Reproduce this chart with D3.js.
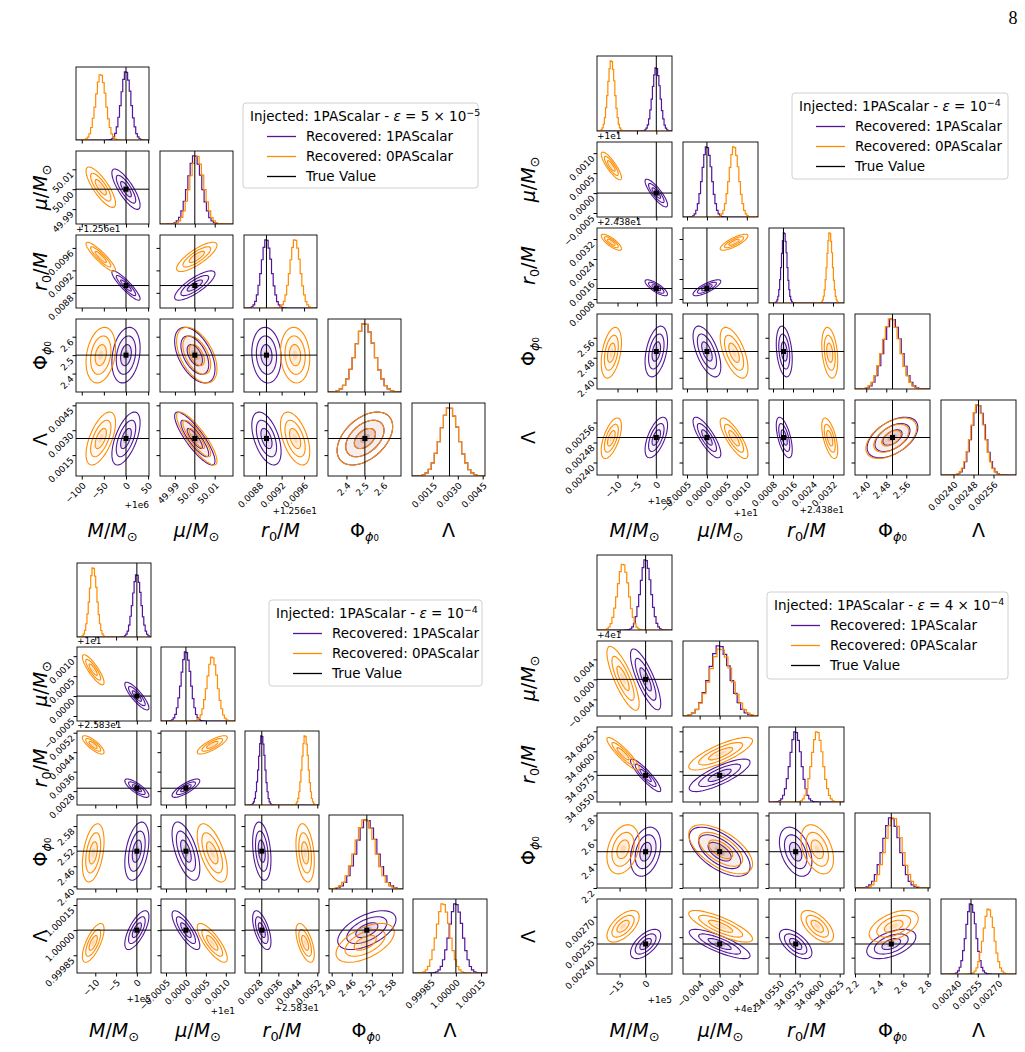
<!DOCTYPE html>
<html><head><meta charset="utf-8">
<script src="https://cdn.jsdelivr.net/npm/d3@7"></script>
<style>body{margin:0;background:#fff}svg{font-family:"DejaVu Sans",sans-serif}</style>
</head><body><svg id="c" width="1025" height="1052"></svg>
<script>
// ---------- DATA ----------
const params = ["M","mu","r0","Phi","Lambda"];
const seriesNames = ["Recovered: 1PAScalar","Recovered: 0PAScalar","True Value"];
// histogram shape (relative heights, bins of sigma/3 from -4 to +4 sigma)
const histProfile = [0.001,0.003,0.007,0.018,0.045,0.095,0.19,0.33,0.5,0.7,0.88,0.99,0.98,0.87,0.71,0.5,0.32,0.19,0.093,0.044,0.018,0.007,0.003,0.001];
const contourRadii = [1.1,2.0,2.9];
const fillRadii = [2.0,1.1,0.5];
const fillAlpha = [0.05,0.1,0.2];

// Panel A : eps = 5e-5 (values shown after offset)
const A_title = ["Injected: 1PAScalar - ","ε"," = 5 × 10","−5"];
const A_lo = [-113, 49.9825, 0.00853, 2.30, 0.00024];
const A_hi = [52, 50.0192, 0.00983, 2.696, 0.00464];
const A_ticks = [[-100,-50,0,50],[49.99,50.00,50.01],[0.0088,0.0092,0.0096],[2.4,2.5,2.6],[0.0015,0.0030,0.0045]];
const A_tickLabels = [["−100","−50","0","50"],["49.99","50.00","50.01"],["0.0088","0.0092","0.0096"],["2.4","2.5","2.6"],["0.0015","0.0030","0.0045"]];
const A_offsets = ["+1e6","","+1.256e1","",""];
const A_truth = [0, 50.0, 0.00893, 2.5, 0.0025];
const A_purpleMean = [0, 50.0, 0.00893, 2.5, 0.0025];
const A_purpleSd = [11, 0.0035, 0.00009, 0.052, 0.00055];
const A_orangeMean = [-57, 50.001, 0.00944, 2.5, 0.0025];
const A_orangeSd = [11.5, 0.0035, 0.00009, 0.052, 0.00055];
const A_rho = [[1,-0.8,-0.9,0.25,0.6],[-0.8,1,0.8,-0.5,-0.85],[-0.9,0.8,1,-0.1,-0.5],[0.25,-0.5,-0.1,1,0.45],[0.6,-0.85,-0.5,0.45,1]];

// Panel B : eps = 1e-4
const B_title = ["Injected: 1PAScalar - ","ε"," = 10","−4"];
const B_lo = [-15.3, -0.0006, 0.00064, 2.355, 0.00235];
const B_hi = [4.05, 0.00128, 0.00364, 2.655, 0.00265];
const B_ticks = [[-10,-5,0],[-0.0005,0,0.0005,0.0010],[0.0008,0.0016,0.0024,0.0032],[2.40,2.48,2.56],[0.00240,0.00248,0.00256]];
const B_tickLabels = [["−10","−5","0"],["−0.0005","0.0000","0.0005","0.0010"],["0.0008","0.0016","0.0024","0.0032"],["2.40","2.48","2.56"],["0.00240","0.00248","0.00256"]];
const B_offsets = ["+1e5","+1e1","+2.438e1","",""];
const B_truth = [0, 0, 0.00122, 2.505, 0.0025];
const B_purpleMean = [0, 0, 0.00125, 2.505, 0.00250];
const B_purpleSd = [1.0, 0.00012, 0.00011, 0.035, 0.000028];
const B_orangeMean = [-11.6, 0.00068, 0.00307, 2.50, 0.002497];
const B_orangeSd = [0.9, 0.00012, 0.00011, 0.035, 0.000028];
const B_rho = [[1,-0.85,-0.8,0.4,0.6],[-0.85,1,0.8,-0.6,-0.8],[-0.8,0.8,1,-0.3,-0.6],[0.4,-0.6,-0.3,1,0.5],[0.6,-0.8,-0.6,0.5,1]];

// Panel C : eps = 1e-4 (second run)
const C_title = ["Injected: 1PAScalar - ","ε"," = 10","−4"];
const C_lo = [-14.4, -0.000625, 0.00223, 2.392, 0.999744];
const C_hi = [3.4, 0.00123, 0.00527, 2.613, 1.000186];
const C_ticks = [[-10,-5,0],[-0.0005,0,0.0005,0.0010],[0.0028,0.0036,0.0044,0.0052],[2.40,2.46,2.52,2.58],[0.99985,1.00000,1.00015]];
const C_tickLabels = [["−10","−5","0"],["−0.0005","0.0000","0.0005","0.0010"],["0.0028","0.0036","0.0044","0.0052"],["2.40","2.46","2.52","2.58"],["0.99985","1.00000","1.00015"]];
const C_offsets = ["+1e5","+1e1","+2.583e1","",""];
const C_truth = [0, 0, 0.00292, 2.505, 1.0];
const C_purpleMean = [0, 0, 0.00292, 2.505, 1.0];
const C_purpleSd = [1.0, 0.00012, 0.00013, 0.03, 0.00004];
const C_orangeMean = [-10.5, 0.00066, 0.00470, 2.50, 0.999924];
const C_orangeSd = [0.9, 0.00013, 0.00013, 0.03, 0.00004];
const C_rho = [[1,-0.85,-0.8,0.4,0.7],[-0.85,1,0.8,-0.6,-0.8],[-0.8,0.8,1,-0.3,-0.6],[0.4,-0.6,-0.3,1,0.55],[0.7,-0.8,-0.6,0.55,1]];

// Panel D : eps = 4e-4
const D_title = ["Injected: 1PAScalar - ","ε"," = 4 × 10","−4"];
const D_lo = [-28, -0.00733, 34.05367, 2.2, 0.00228];
const D_hi = [15.2, 0.00767, 34.06304, 2.82, 0.00283];
const D_ticks = [[-15,0],[-0.004,0,0.004],[34.0550,34.0575,34.0600,34.0625],[2.2,2.4,2.6,2.8],[0.00240,0.00255,0.00270]];
const D_tickLabels = [["−15","0"],["−0.004","0.000","0.004"],["34.0550","34.0575","34.0600","34.0625"],["2.2","2.4","2.6","2.8"],["0.00240","0.00255","0.00270"]];
const D_offsets = ["+1e5","+4e1","","",""];
const D_truth = [0, 0, 34.0570, 2.5, 0.0025];
const D_purpleMean = [0, 0, 34.0570, 2.5, 0.0025];
const D_purpleSd = [3.0, 0.0021, 0.0007, 0.07, 0.000037];
const D_orangeMean = [-13, 0.0002, 34.0597, 2.52, 0.00263];
const D_orangeSd = [3.2, 0.0022, 0.0007, 0.07, 0.00004];
const D_rho = [[1,-0.8,-0.9,0.3,0.6],[-0.8,1,0.8,-0.6,-0.8],[-0.9,0.8,1,-0.4,-0.6],[0.3,-0.6,-0.4,1,0.5],[0.6,-0.8,-0.6,0.5,1]];

// ---------- LAYOUT ----------
const COL_P = "#52169a", COL_O = "#ff8c00";
const panels = [
 {id:"A",ox:76,oy:67,step:84,cell:73,lx:47,lb:537,leg:[243,103,235,85],title:A_title,lo:A_lo,hi:A_hi,ticks:A_ticks,labels:A_tickLabels,off:A_offsets,truth:A_truth,pm:A_purpleMean,ps:A_purpleSd,om:A_orangeMean,os:A_orangeSd,rho:A_rho},
 {id:"B",ox:597,oy:56,step:86,cell:75,lx:535,lb:537,leg:[792,93,216,86],title:B_title,lo:B_lo,hi:B_hi,ticks:B_ticks,labels:B_tickLabels,off:B_offsets,truth:B_truth,pm:B_purpleMean,ps:B_purpleSd,om:B_orangeMean,os:B_orangeSd,rho:B_rho},
 {id:"C",ox:77,oy:563,step:84,cell:74,lx:47,lb:1037,leg:[269,600,213,86],title:C_title,lo:C_lo,hi:C_hi,ticks:C_ticks,labels:C_tickLabels,off:C_offsets,truth:C_truth,pm:C_purpleMean,ps:C_purpleSd,om:C_orangeMean,os:C_orangeSd,rho:C_rho},
 {id:"D",ox:597,oy:555,step:86,cell:75,lx:535,lb:1037,leg:[767,592,241,87],title:D_title,lo:D_lo,hi:D_hi,ticks:D_ticks,labels:D_tickLabels,off:D_offsets,truth:D_truth,pm:D_purpleMean,ps:D_purpleSd,om:D_orangeMean,os:D_orangeSd,rho:D_rho}
];

const svg = d3.select("#c");
svg.append("text").attr("x",1013).attr("y",24).attr("font-family","Liberation Serif, serif").attr("font-size",18).attr("text-anchor","middle").text("8");

function axisLabel(t, p){
  const it = s=>t.append("tspan").attr("font-style","italic").text(s);
  const rm = s=>t.append("tspan").text(s);
  const sub = (s,italic)=>{t.append("tspan").attr("baseline-shift","-30%").attr("font-size","68%").attr("font-style",italic?"italic":"normal").text(s);};
  if(p==="M"){it("M");rm("/");it("M");sub("⊙");}
  else if(p==="mu"){it("μ");rm("/");it("M");sub("⊙");}
  else if(p==="r0"){it("r");sub("0");rm("/");it("M");}
  else if(p==="Phi"){rm("Φ");sub("ϕ",true);t.append("tspan").attr("baseline-shift","-45%").attr("font-size","45%").text("0");}
  else rm("Λ");
}

let clipId=0;
panels.forEach(P=>{
  const g = svg.append("g");
  const n = params.length;
  const xs = params.map((_,i)=>d3.scaleLinear().domain([P.lo[i],P.hi[i]]).range([0,P.cell]));
  const ys = params.map((_,i)=>d3.scaleLinear().domain([P.lo[i],P.hi[i]]).range([P.cell,0]));
  const series=[{m:P.pm,s:P.ps,c:COL_P},{m:P.om,s:P.os,c:COL_O}];
  for(let r=0;r<n;r++) for(let c=0;c<=r;c++){
    const cg = g.append("g").attr("transform",`translate(${P.ox+c*P.step},${P.oy+r*P.step})`);
    const cid="clip"+(clipId++);
    cg.append("clipPath").attr("id",cid).append("rect").attr("width",P.cell).attr("height",P.cell);
    const inner = cg.append("g").attr("clip-path",`url(#${cid})`);
    const x = xs[c];
    if(r===c){
      const hs = series.map(S=>histProfile.map((h,k)=>({x0:S.m[c]+(k-12)/3*S.s[c],x1:S.m[c]+(k-11)/3*S.s[c],h:h/S.s[c]})));
      const hmax = d3.max(hs.flat(),d=>d.h);
      const hy = d3.scaleLinear().domain([0,hmax*1.07]).range([P.cell,0]);
      hs.forEach((H,si)=>{
        const pts=[[-5,hy(0)],[x(H[0].x0),hy(0)]];
        H.forEach(b=>{pts.push([x(b.x0),hy(b.h)]);pts.push([x(b.x1),hy(b.h)]);});
        pts.push([x(H[H.length-1].x1),hy(0)]);pts.push([P.cell+5,hy(0)]);
        inner.append("path").attr("d",d3.line()(pts)).attr("fill","none").attr("stroke",series[si].c).attr("stroke-width",1.2);
      });
      inner.append("line").attr("x1",x(P.truth[c])).attr("x2",x(P.truth[c])).attr("y1",0).attr("y2",P.cell).attr("stroke","#000").attr("stroke-width",1);
    } else {
      const y = ys[r];
      series.forEach(S=>{
        const mx=S.m[c], my=S.m[r], sx=S.s[c], sy=S.s[r], rho=P.rho[r][c];
        const ell = k=>d3.range(0,65).map(j=>{const t=j/64*2*Math.PI;
          return [x(mx+k*sx*Math.cos(t)), y(my+k*sy*(rho*Math.cos(t)+Math.sqrt(1-rho*rho)*Math.sin(t)))];});
        fillRadii.forEach((k,ki)=>{
          inner.append("path").attr("d",d3.line()(ell(k))).attr("fill",S.c).attr("fill-opacity",fillAlpha[ki]).attr("stroke","none");
        });
        contourRadii.forEach(k=>{
          inner.append("path").attr("d",d3.line()(ell(k))).attr("fill","none").attr("stroke",S.c).attr("stroke-width",1.1);
        });
      });
      inner.append("line").attr("x1",x(P.truth[c])).attr("x2",x(P.truth[c])).attr("y1",0).attr("y2",P.cell).attr("stroke","#000");
      inner.append("line").attr("y1",y(P.truth[r])).attr("y2",y(P.truth[r])).attr("x1",0).attr("x2",P.cell).attr("stroke","#000");
      inner.append("rect").attr("x",x(P.truth[c])-2.5).attr("y",y(P.truth[r])-2.5).attr("width",5).attr("height",5).attr("fill","#000");
    }
    cg.append("rect").attr("width",P.cell).attr("height",P.cell).attr("fill","none").attr("stroke","#000").attr("stroke-width",0.9);
    const bottom = r===n-1;
    const ax = cg.append("g").attr("transform",`translate(0,${P.cell})`)
      .call(d3.axisBottom(x).tickValues(P.ticks[c]).tickSize(3.5).tickFormat((d,i)=>bottom?P.labels[c][i]:""));
    ax.select(".domain").remove();
    ax.selectAll("text").attr("font-size",9).attr("font-family","DejaVu Sans").attr("text-anchor","end")
      .attr("transform","translate(-3,3) rotate(-45)").attr("dy","0.7em").attr("x",0).attr("y",4);
    if(bottom && P.off[c]){
      const ml = d3.max(P.labels[c],s=>s.length);
      cg.append("text").attr("x",P.cell).attr("y",P.cell+20+ml*3).attr("text-anchor","end").attr("font-size",9).text(P.off[c]);
    }
    if(r!==c){
      const left = c===0;
      const ay = cg.append("g").call(d3.axisLeft(ys[r]).tickValues(P.ticks[r]).tickSize(3.5).tickFormat((d,i)=>left?P.labels[r][i]:""));
      ay.select(".domain").remove();
      ay.selectAll("text").attr("font-size",9).attr("font-family","DejaVu Sans").attr("text-anchor","end")
        .attr("transform","rotate(-45)").attr("x",-5).attr("dy","0.3em");
      if(left && P.off[r]) cg.append("text").attr("x",0).attr("y",-3).attr("font-size",9).text(P.off[r]);
    }
  }
  params.forEach((p,i)=>{
    const t=g.append("text").attr("x",P.ox+i*P.step+P.cell/2).attr("y",P.lb).attr("text-anchor","middle").attr("font-size",19);
    axisLabel(t,p);
    if(i>0){
      const yy=P.oy+i*P.step+P.cell/2;
      const t2=g.append("text").attr("transform",`translate(${P.lx},${yy}) rotate(-90)`).attr("text-anchor","middle").attr("font-size",19);
      axisLabel(t2,p);
    }
  });
  const [lx,ly,lw,lh]=P.leg;
  const L=g.append("g").attr("transform",`translate(${lx},${ly})`);
  L.append("rect").attr("width",lw).attr("height",lh).attr("rx",3).attr("fill","#fff").attr("stroke","#d0d0d0");
  const tt=L.append("text").attr("x",7).attr("y",18).attr("font-size",13.5);
  tt.append("tspan").text(P.title[0]);
  tt.append("tspan").attr("font-style","italic").text(P.title[1]);
  tt.append("tspan").text(P.title[2]);
  tt.append("tspan").attr("baseline-shift","super").attr("font-size",9.5).text(P.title[3]);
  [COL_P,COL_O,"#000"].forEach((col,i)=>{
    const yy=38+i*20;
    L.append("line").attr("x1",24).attr("x2",53).attr("y1",yy-4.5).attr("y2",yy-4.5).attr("stroke",col).attr("stroke-width",1.3);
    L.append("text").attr("x",63).attr("y",yy).attr("font-size",13.5).text(seriesNames[i]);
  });
});
</script></body></html>
